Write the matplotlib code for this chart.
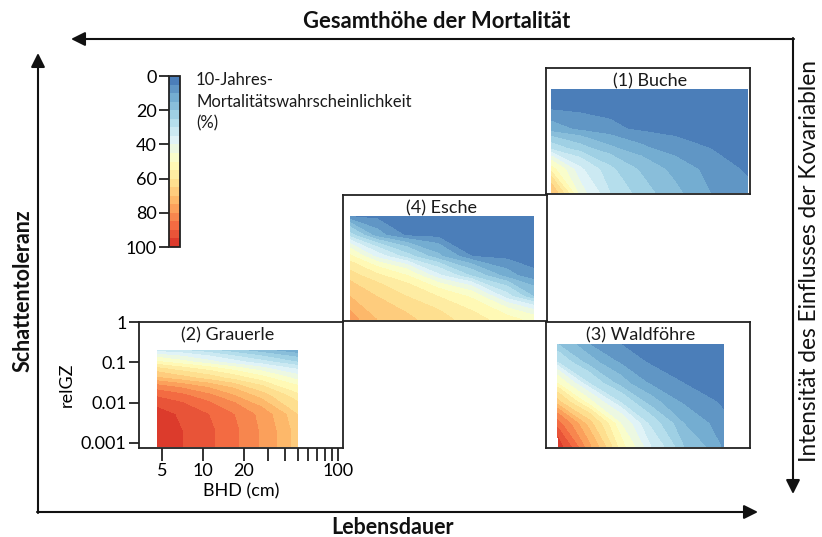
import numpy as np
import matplotlib
matplotlib.use("Agg")
import matplotlib.pyplot as plt
from matplotlib.colors import LinearSegmentedColormap

plt.rcParams['font.family'] = ['Lato', 'DejaVu Sans']

# ---- 10-year mortality probability (%) on a BHD x relGZ grid per species ----
# rows: relGZ (top to bottom), columns: BHD (cm)
buche_bhd = [3.7, 6, 10, 17, 30, 55, 104]
buche_relgz = [0.3, 0.1, 0.03, 0.01, 0.003, 0.0008]
buche_mort = [
    [2, 2, 2, 1, 1, 1, 1],
    [4, 3, 3, 2, 2, 2, 2],
    [12, 9, 6, 4, 3, 3, 2],
    [28, 22, 16, 11, 7, 5, 3],
    [52, 36, 26, 19, 13, 8, 4],
    [70, 42, 30, 22, 16, 10, 6],
]

esche_bhd = [3.8, 6, 10, 17, 30, 55, 86]
esche_relgz = [0.3, 0.1, 0.03, 0.01, 0.003, 0.0008]
esche_mort = [
    [4, 3, 2, 2, 2, 2, 2],
    [27, 12, 4, 3, 2, 2, 2],
    [51, 38, 27, 16, 5, 3, 2],
    [62, 56, 50, 36, 24, 12, 6],
    [70, 65, 60, 55, 49, 32, 20],
    [77, 70, 66, 62, 57, 52, 48],
]

grauerle_bhd = [4.6, 7, 11, 17, 27, 50]
grauerle_relgz = [0.2, 0.1, 0.04, 0.015, 0.005, 0.002, 0.0008]
grauerle_mort = [
    [32, 30, 26, 21, 16, 10],
    [51, 47, 42, 37, 32, 25],
    [71, 67, 63, 58, 52, 43],
    [89, 86, 81, 75, 67, 56],
    [97, 94, 90, 85, 78, 65],
    [98, 95, 91, 86, 79, 67],
    [97, 95, 91, 86, 79, 67],
]

waldfoehre_bhd = [4.1, 7, 12, 20, 35, 69]
waldfoehre_relgz = [0.28, 0.1, 0.03, 0.01, 0.003, 0.0008]
waldfoehre_mort = [
    [20, 10, 5, 3, 2, 2],
    [30, 17, 9, 4, 3, 2],
    [50, 30, 17, 9, 5, 3],
    [67, 47, 30, 17, 9, 4],
    [87, 67, 45, 28, 15, 6],
    [98, 76, 52, 35, 20, 9],
]

panel_titles = ["(1) Buche", "(4) Esche", "(2) Grauerle", "(3) Waldföhre"]
cbar_ticks = [0, 20, 40, 60, 80, 100]
x_tick_pos = [5, 10, 20, 30, 40, 50, 60, 70, 80, 90, 100]
x_tick_labels = ["5", "10", "20", "", "", "", "", "", "", "", "100"]
y_tick_pos = [0.001, 0.01, 0.1, 1]
y_tick_labels = ["0.001", "0.01", "0.1", "1"]

# ---- figure ----
W, H = 822, 537
fig = plt.figure(figsize=(W / 100, H / 100), dpi=100)


def rect(x0, y0, w, h):
    """pixel box (top-left origin) -> figure fraction rect"""
    return [x0 / W, 1 - (y0 + h) / H, w / W, h / H]


cmap = LinearSegmentedColormap.from_list(
    "mort",
    ["#4273b3", "#74add1", "#abd9e9", "#e0f3f8", "#ffffbf",
     "#fee090", "#fdae61", "#f46d43", "#d73027"])
levels = np.arange(0, 101, 5)

PW, PH = 204, 126
panels = [
    (buche_bhd, buche_relgz, buche_mort, panel_titles[0], (546, 68)),
    (esche_bhd, esche_relgz, esche_mort, panel_titles[1], (343, 195)),
    (grauerle_bhd, grauerle_relgz, grauerle_mort, panel_titles[2], (139, 322)),
    (waldfoehre_bhd, waldfoehre_relgz, waldfoehre_mort, panel_titles[3], (546, 322)),
]

cs_ref = None
for bhd, relgz, mort, title, (px, py) in panels:
    ax = fig.add_axes(rect(px, py, PW, PH))
    ax.set_xscale("log")
    ax.set_yscale("log")
    cs = ax.contourf(bhd, relgz, np.array(mort, dtype=float),
                     levels=levels, cmap=cmap, vmin=0, vmax=100)
    cs_ref = cs
    ax.set_xlim(3.37, 108)
    ax.set_ylim(10 ** -3.13, 1)
    for s in ax.spines.values():
        s.set_linewidth(1.3)
        s.set_color("#222222")
    xc = np.sqrt(bhd[0] * bhd[-1])
    ax.text(xc, 0.895, title, transform=ax.get_xaxis_transform(),
            ha="center", va="center", fontsize=13, color="#1a1a1a")
    if title.startswith("(2)"):
        ax.xaxis.set_major_locator(matplotlib.ticker.FixedLocator(x_tick_pos))
        ax.xaxis.set_minor_locator(matplotlib.ticker.NullLocator())
        ax.set_xticklabels(x_tick_labels)
        ax.yaxis.set_major_locator(matplotlib.ticker.FixedLocator(y_tick_pos))
        ax.yaxis.set_minor_locator(matplotlib.ticker.NullLocator())
        ax.set_yticklabels(y_tick_labels)
        ax.tick_params(axis="x", length=9, width=1.3, labelsize=13, pad=2,
                       color="#222222")
        ax.tick_params(axis="y", length=7, width=1.3, labelsize=13, pad=2,
                       color="#222222")
        ax.set_xlabel("BHD (cm)", fontsize=13, labelpad=3)
        ax.set_ylabel("relGZ", fontsize=13, labelpad=4)
    else:
        ax.set_xticks([])
        ax.set_yticks([])
        ax.minorticks_off()

# ---- colour bar ----
cax = fig.add_axes(rect(169, 76, 11, 171))
cb = fig.colorbar(cs_ref, cax=cax, ticks=cbar_ticks)
cax.invert_yaxis()
cax.yaxis.set_ticks_position("left")
cax.tick_params(length=7, width=1.3, labelsize=13, pad=2, color="#222222")
cb.outline.set_linewidth(1.3)
cb.outline.set_edgecolor("#222222")
fig.text(196 / W, 1 - 72 / H,
         "10-Jahres-\nMortalitätswahrscheinlichkeit\n(%)",
         ha="left", va="top", fontsize=12, linespacing=1.45,
         color="#1a1a1a")

# ---- frame arrows and their labels ----
ov = fig.add_axes([0, 0, 1, 1], zorder=-1)
ov.set_xlim(0, W)
ov.set_ylim(H, 0)
ov.axis("off")
arrow = dict(arrowstyle="-|>", lw=1.5, color="#111111",
             mutation_scale=21, shrinkA=0, shrinkB=0)
ov.annotate("", xy=(38, 53), xytext=(38, 513), arrowprops=arrow)
ov.annotate("", xy=(758, 512), xytext=(37, 512), arrowprops=arrow)
ov.annotate("", xy=(71, 39), xytext=(794, 39), arrowprops=arrow)
ov.annotate("", xy=(793, 494), xytext=(793, 38), arrowprops=arrow)

ov.text(437, 21, "Gesamthöhe der Mortalität", ha="center", va="center",
        fontsize=15.8, fontweight="bold", color="#111111")
ov.text(392, 528, "Lebensdauer", ha="center", va="center",
        fontsize=15.5, fontweight="bold", color="#111111")
ov.text(23, 291, "Schattentoleranz", ha="center", va="center",
        rotation=90, fontsize=15.5, fontweight="bold", color="#111111")
ov.text(809, 261, "Intensität des Einflusses der Kovariablen",
        ha="center", va="center", rotation=90, fontsize=16.3,
        color="#111111")

fig.savefig("out.png", dpi=100)
